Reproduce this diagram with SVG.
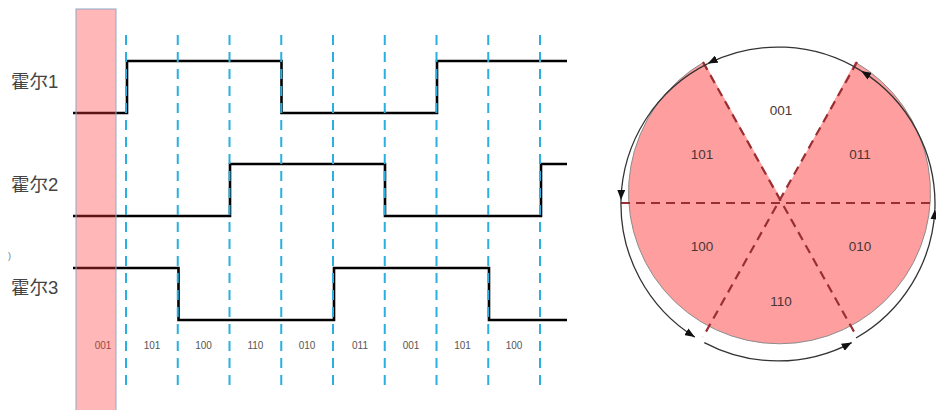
<svg xmlns="http://www.w3.org/2000/svg" width="936" height="410" viewBox="0 0 936 410">
  <defs>
    <marker id="arr" markerUnits="userSpaceOnUse" markerWidth="10" markerHeight="8" refX="10" refY="4" orient="auto">
      <path d="M0,0 L10,4 L0,8 z" fill="#111"/>
    </marker>
    <style>
      .lbl { font-family: "Liberation Sans", "Noto Sans CJK SC", sans-serif; font-size: 18.5px; fill: #444; }
      .code { font-family: "Liberation Sans", sans-serif; font-size: 10px; fill: #555; text-anchor: middle; }
      .pcode { font-family: "Liberation Sans", sans-serif; font-size: 13.5px; fill: #4a3535; text-anchor: middle; }
      .sig { fill: none; stroke: #000; stroke-width: 2.6; stroke-linejoin: miter; }
      .grid { stroke: #29afe0; stroke-width: 2; stroke-dasharray: 10 7; }
      .pdash { stroke: #9a2f33; stroke-width: 2.2; stroke-dasharray: 9 6; fill: none; }
      .ring { fill: none; stroke: #333; stroke-width: 1.3; marker-end: url(#arr); }
    </style>
  </defs>
  <rect width="936" height="410" fill="#fff"/>

  <g id="labels">
    <text class="lbl" x="11" y="88">霍尔1</text>
    <text class="lbl" x="11" y="191">霍尔2</text>
    <text class="lbl" x="11" y="294">霍尔3</text>
    <text x="8" y="259" style="font-family:'Liberation Sans',sans-serif;font-size:9px;fill:#777">)</text>
  </g>

  <g id="hall1"><polyline class="sig" points="73,113 127,113 127,61 281.5,61 281.5,113 437,113 437,61 567,61"/></g>
  <g id="hall2"><polyline class="sig" points="73,216 230,216 230,164 385,164 385,216 541,216 541,164 567,164"/></g>
  <g id="hall3"><polyline class="sig" points="73,268 178.5,268 178.5,320 334,320 334,268 489,268 489,320 567,320"/></g>

  <g id="gridlines">
    <line class="grid" x1="126" y1="35" x2="126" y2="386"/>
    <line class="grid" x1="177.75" y1="35" x2="177.75" y2="386"/>
    <line class="grid" x1="229.5" y1="35" x2="229.5" y2="386"/>
    <line class="grid" x1="281.25" y1="35" x2="281.25" y2="386"/>
    <line class="grid" x1="333" y1="35" x2="333" y2="386"/>
    <line class="grid" x1="384.75" y1="35" x2="384.75" y2="386"/>
    <line class="grid" x1="436.5" y1="35" x2="436.5" y2="386"/>
    <line class="grid" x1="488.25" y1="35" x2="488.25" y2="386"/>
    <line class="grid" x1="540" y1="35" x2="540" y2="386"/>
  </g>

  <g id="codes">
    <text class="code" x="103" y="349">001</text>
    <text class="code" x="152" y="349">101</text>
    <text class="code" x="203.5" y="349">100</text>
    <text class="code" x="255.4" y="349">110</text>
    <text class="code" x="307" y="349">010</text>
    <text class="code" x="360" y="349">011</text>
    <text class="code" x="411" y="349">001</text>
    <text class="code" x="462.5" y="349">101</text>
    <text class="code" x="514" y="349">100</text>
  </g>

  <g id="highlight">
    <rect x="76" y="9" width="40" height="405" fill="#ff3838" fill-opacity="0.36" stroke="#8fa8c8" stroke-width="1"/>
  </g>

  <g id="sector-pie">
    <path d="M781,199 L855,62 A151 151 0 1 1 704,62 Z" fill="#ff9e9e"/>
    <path d="M855,62 A151 151 0 1 1 704,62" fill="none" stroke="#8c8c8c" stroke-width="1"/>
  </g>

  <g id="pie-dividers">
    <line class="pdash" x1="621" y1="203" x2="936" y2="203"/>
    <line class="pdash" x1="703" y1="62" x2="857" y2="337"/>
    <line class="pdash" x1="857" y1="62" x2="703" y2="337"/>
  </g>

  <g id="sector-labels">
    <text class="pcode" x="781" y="115">001</text>
    <text class="pcode" x="702" y="159">101</text>
    <text class="pcode" x="860" y="159">011</text>
    <text class="pcode" x="702" y="251">100</text>
    <text class="pcode" x="860" y="251">010</text>
    <text class="pcode" x="781" y="306">110</text>
  </g>

  <g id="rotation-arrows">
    <path class="ring" d="M861.2,70.9 A157 157 0 0 0 707.8,63.6"/>
    <path class="ring" d="M707.8,63.6 A157 157 0 0 0 621,199.9"/>
    <path class="ring" d="M621,199.9 A157 157 0 0 0 694.8,337.1"/>
    <path class="ring" d="M704.3,342.6 A157 157 0 0 0 851.7,342.6"/>
    <path class="ring" d="M856,338 A157 157 0 0 0 934.9,209.5"/>
    <path class="ring" d="M934.9,209.5 A157 157 0 0 0 861.2,70.9"/>
  </g>
</svg>
